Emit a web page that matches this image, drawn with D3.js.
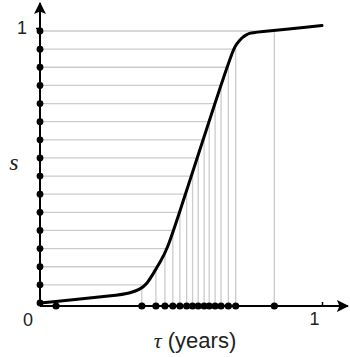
<!DOCTYPE html>
<html lang="en">
<head>
    <meta charset="UTF-8">
    <title>s versus tau</title>
    <script src="https://d3js.org/d3.v7.min.js"></script>
    <style>
        body { margin: 0; background: #fff; }
        .grid { stroke: #cbcbcb; stroke-width: 1.3; fill: none; }
        .curve { fill: none; stroke: #000; stroke-width: 3; stroke-linejoin: round; stroke-linecap: round; }
        .axis-line { stroke: #000; stroke-width: 2; }
        .lbl { font-family: "Liberation Sans", Arial, sans-serif; font-size: 18px; fill: #222; }
    </style>
</head>
<body>
    <div id="chart"></div>
    <script type="text/javascript">
        // curve: tau (years) vs s
        const curveTau = [0, 0.284, 0.319, 0.355, 0.379, 0.401, 0.426, 0.450, 0.486, 0.578,
                          0.624, 0.684, 0.695, 0.709, 0.720, 0.730, 0.741, 0.752, 1.0];
        const curveS   = [0, 0.029, 0.037, 0.050, 0.070, 0.107, 0.150, 0.195, 0.305, 0.599,
                          0.746, 0.930, 0.949, 0.967, 0.978, 0.985, 0.991, 0.994, 1.020];

        // dots on the tau axis
        const tauDots = [0.057, 0.361, 0.411, 0.443, 0.471, 0.496, 0.520, 0.541, 0.561,
                         0.582, 0.600, 0.621, 0.642, 0.668, 0.694, 0.831];
        // dots on the s axis: 0, 1/15, ..., 1
        const sDots = [0, 0.0667, 0.1333, 0.2, 0.2667, 0.3333, 0.4, 0.4667, 0.5333,
                       0.6, 0.6667, 0.7333, 0.8, 0.8667, 0.9333, 1];

        const tauTicks = [1];
        const sTicks = [1];

        const W = 350, H = 357;
        const margin = {top: 31, right: 28, bottom: 54, left: 40};
        const axisMax = {tau: 1.092, s: 1.103};

        const x = d3.scaleLinear().domain([0, 1]).range([margin.left, W - margin.right]);
        const y = d3.scaleLinear().domain([0, 1]).range([H - margin.bottom, margin.top]);
        const xAxisY = y(0) + 3; // the tau axis sits a hair below s = 0

        const pts = curveTau.map((t, i) => ({t: t, s: curveS[i]}));

        const svg = d3.select("#chart").append("svg")
            .attr("width", W)
            .attr("height", H);

        const defs = svg.append("defs");

        // arrow heads
        defs.append("marker")
            .attr("id", "arrow")
            .attr("viewBox", "0 -6 12 12")
            .attr("refX", 11)
            .attr("refY", 0)
            .attr("markerWidth", 12)
            .attr("markerHeight", 12)
            .attr("markerUnits", "userSpaceOnUse")
            .attr("orient", "auto")
            .append("path")
            .attr("d", "M0,-6L12,0L0,6L2.5,0Z")
            .attr("fill", "#000");

        const curveGen = d3.curveBasis;

        // region left of / above the curve (for horizontal lines)
        defs.append("clipPath").attr("id", "above")
            .append("path")
            .attr("d", d3.area()
                .x(d => x(d.t))
                .y0(0)
                .y1(d => y(d.s))
                .curve(curveGen)(pts));

        // region below the curve (for vertical lines)
        defs.append("clipPath").attr("id", "below")
            .append("path")
            .attr("d", d3.area()
                .x(d => x(d.t))
                .y0(H)
                .y1(d => y(d.s))
                .curve(curveGen)(pts));

        // horizontal grid lines
        svg.append("g").attr("clip-path", "url(#above)")
            .selectAll("line")
            .data(sDots.slice(1))
            .join("line")
            .attr("class", "grid")
            .attr("x1", x(0))
            .attr("x2", x(1))
            .attr("y1", d => y(d))
            .attr("y2", d => y(d));

        // vertical grid lines
        svg.append("g").attr("clip-path", "url(#below)")
            .selectAll("line")
            .data(tauDots)
            .join("line")
            .attr("class", "grid")
            .attr("x1", d => x(d))
            .attr("x2", d => x(d))
            .attr("y1", xAxisY)
            .attr("y2", y(1.1));

        // axes
        svg.append("line")
            .attr("class", "axis-line")
            .attr("x1", x(0)).attr("y1", xAxisY)
            .attr("x2", x(axisMax.tau)).attr("y2", xAxisY)
            .attr("marker-end", "url(#arrow)");

        svg.append("line")
            .attr("class", "axis-line")
            .attr("x1", x(0)).attr("y1", y(0))
            .attr("x2", x(0)).attr("y2", y(axisMax.s))
            .attr("marker-end", "url(#arrow)");

        // tick "1" on tau axis
        const gx = svg.append("g")
            .attr("transform", `translate(0,${xAxisY})`)
            .call(d3.axisBottom(x).tickValues(tauTicks).tickFormat(d3.format("d"))
                .tickSizeInner(-4).tickSizeOuter(0).tickPadding(6));
        gx.select(".domain").remove();
        gx.selectAll(".tick line").attr("stroke", "#000").attr("stroke-width", 1.5);
        gx.selectAll(".tick text").attr("class", "lbl").attr("dx", -8);

        // tick "1" on s axis
        const gy = svg.append("g")
            .attr("transform", `translate(${x(0)},-3)`)
            .call(d3.axisLeft(y).tickValues(sTicks).tickFormat(d3.format("d"))
                .tickSizeInner(4).tickSizeOuter(0).tickPadding(9));
        gy.select(".domain").remove();
        gy.selectAll(".tick line").attr("stroke", "#000").attr("stroke-width", 1.5);
        gy.selectAll(".tick text").attr("class", "lbl").attr("text-anchor", "end");

        // origin label
        svg.append("text")
            .attr("class", "lbl")
            .attr("x", x(0) - 12)
            .attr("y", xAxisY + 20)
            .attr("text-anchor", "middle")
            .text("0");

        // curve
        svg.append("path")
            .datum(pts)
            .attr("class", "curve")
            .attr("d", d3.line()
                .x(d => x(d.t))
                .y(d => y(d.s))
                .curve(curveGen));

        // dots
        svg.append("g").selectAll("circle")
            .data(sDots)
            .join("circle")
            .attr("cx", x(0))
            .attr("cy", d => y(d))
            .attr("r", 3.4)
            .attr("fill", "#000");

        svg.append("g").selectAll("circle")
            .data(tauDots)
            .join("circle")
            .attr("cx", d => x(d))
            .attr("cy", xAxisY)
            .attr("r", 3.6)
            .attr("fill", "#000");

        // axis titles
        svg.append("text")
            .attr("x", 14)
            .attr("y", 170)
            .attr("text-anchor", "middle")
            .style("font-family", "'Liberation Serif', 'Times New Roman', serif")
            .style("font-style", "italic")
            .style("font-size", "24px")
            .attr("fill", "#222")
            .text("s");

        const title = svg.append("text")
            .attr("x", 195)
            .attr("y", 348)
            .attr("text-anchor", "middle")
            .style("font-family", "'Liberation Sans', Arial, sans-serif")
            .style("font-size", "22px")
            .attr("fill", "#222");
        title.append("tspan").style("font-family", "'Liberation Serif', serif").style("font-style", "italic").text("τ");
        title.append("tspan").text(" (years)");
    </script>
</body>
</html>
